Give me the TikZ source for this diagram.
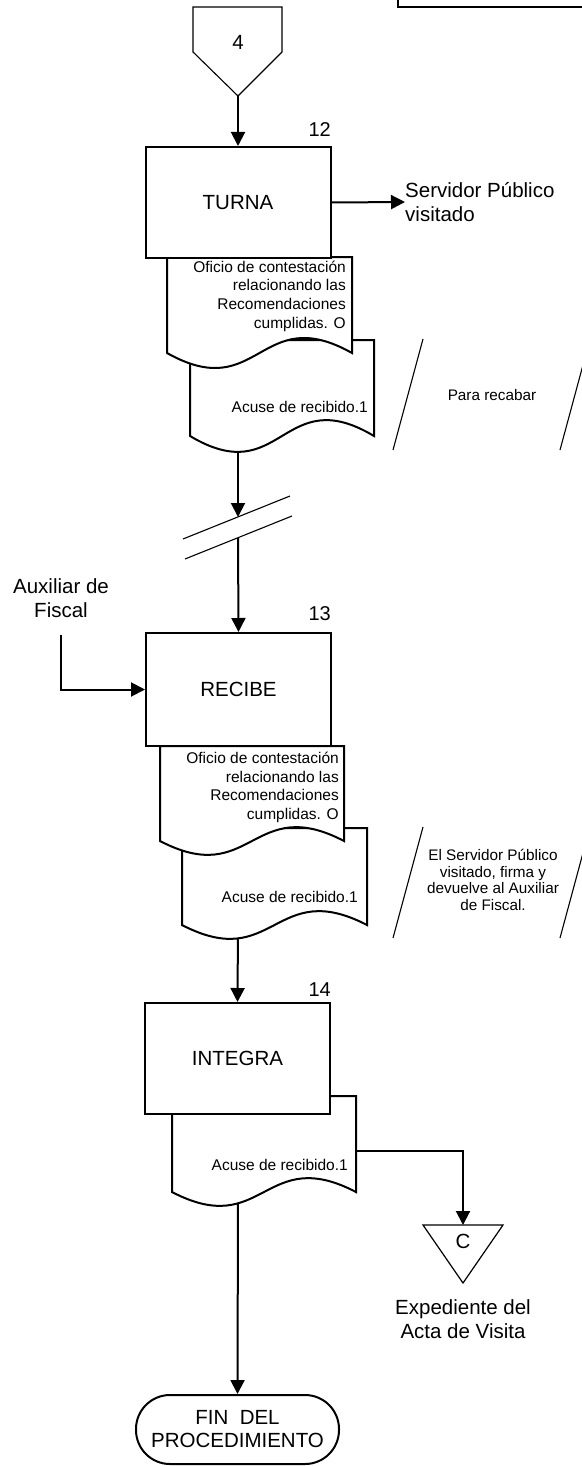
\documentclass[tikz,border=0pt]{standalone}
\usepackage{fontspec}
\setmainfont{Liberation Sans}
\usetikzlibrary{arrows.meta,backgrounds}
\tikzset{
 shapeline/.style={line width=2pt, draw=black, fill=white},
 thinline/.style={line width=1.1pt, draw=black},
 conn/.style={line width=2pt, -{Triangle[length=14pt,width=14pt]}},
 procbox/.style={shapeline, rectangle, minimum width=185pt, minimum height=111pt, inner sep=0pt, font=\fontsize{20.5}{24}\selectfont},
 bigtxt/.style={font=\fontsize{20.5}{24}\selectfont, inner sep=0pt, align=center},
 lefttxt/.style={font=\fontsize{20.5}{24}\selectfont, inner sep=0pt, align=left, anchor=west},
 doctxt/.style={font=\fontsize{15.5}{18.6}\selectfont, inner sep=0pt, align=right, anchor=east},
 notetxt/.style={font=\fontsize{15.3}{16.8}\selectfont, inner sep=0pt, align=center},
 numtxt/.style={font=\fontsize{20}{23}\selectfont, inner sep=0pt, anchor=base east},
 terminal/.style={shapeline, rounded corners=34pt, minimum width=203pt, minimum height=69pt, inner sep=0pt, align=center, font=\fontsize{20.5}{23}\selectfont},
}
\newcommand\mydocshape[5]{\path[shapeline] (#1,#2) -- (#3,#2) -- (#3,#4) .. controls ({(#1+#3)/2},{#4-#5}) and ({(#1+#3)/2},{#4+#5}) .. (#1,#4) -- cycle;}
\begin{document}
\begin{tikzpicture}[x=1pt,y=-1pt]
\useasboundingbox (0,0) rectangle (581,1466);
% top right frame
\draw[line width=2.6pt] (398,-10) -- (398,7) -- (600,7);
% off-page connector 4
\path[thinline, fill=white] (193,7) -- (282,7) -- (282,52) -- (238,96) -- (193,52) -- cycle;
\node[bigtxt] (c4) at (238,42) {4};
\coordinate (c4tip) at (238,96);
% step 12
\mydocshape{190}{340}{374}{436}{55}
\node[doctxt] (d2) at (368,407) {Acuse de recibido.1};
\coordinate (d2b) at (238,436);
\mydocshape{167}{257}{352}{353}{52}
\node[doctxt] (d1) at (346,296) {Oficio de contestación\\relacionando las\\Recomendaciones\\cumplidas. O};
\node[procbox] (t12) at (238,202.5) {TURNA};
\node[numtxt] (n12) at (331,137) {12};
\node[lefttxt] (sp) at (405,202) {Servidor Público\\visitado};
% annotation Para recabar
\draw[thinline] (423,339) -- (393,450);
\draw[thinline] (590,339) -- (560,450);
\node[notetxt] (pr) at (492,395) {Para recabar};
% break
\coordinate (brkA) at (238,517);
\coordinate (brkB) at (238,538);
\draw[thinline] (183,539) -- (290,496);
\draw[thinline] (185,559) -- (292,516);
% step 13
\mydocshape{182}{828}{367}{925}{48}
\node[doctxt] (d4) at (358,897) {Acuse de recibido.1};
\coordinate (d4b) at (238,925);
\mydocshape{160}{746}{344}{841}{48}
\node[doctxt] (d3) at (339,787.5) {Oficio de contestación\\relacionando las\\Recomendaciones\\cumplidas. O};
\node[procbox, minimum width=185pt, minimum height=113pt] (r13) at (238.5,689.5) {RECIBE};
\node[numtxt] (n13) at (331,620) {13};
\node[bigtxt] (aux) at (61,598) {Auxiliar de\\Fiscal};
\coordinate (auxs) at (61,635);
% annotation 2
\draw[thinline] (423,827) -- (393,938);
\draw[thinline] (590,827) -- (560,938);
\node[notetxt] (sv) at (493,880) {El Servidor Público\\visitado, firma y\\devuelve al Auxiliar\\de Fiscal.};
% step 14
\mydocshape{172}{1096}{356}{1192}{48}
\node[doctxt] (d5) at (348,1165) {Acuse de recibido.1};
\coordinate (d5b) at (238,1192);
\coordinate (d5r) at (356,1151);
\node[procbox] (i14) at (237.5,1058.5) {INTEGRA};
\node[numtxt] (n14) at (331,996) {14};
% connector C
\path[line width=1.2pt, draw=black, fill=white] (423,1225) -- (503,1225) -- (463,1283) -- cycle;
\node[bigtxt] (cC) at (463,1241) {C};
\coordinate (ctop) at (463,1225);
\node[bigtxt] (exp) at (463,1319) {Expediente del\\Acta de Visita};
% end
\node[terminal] (fin) at (237.5,1429.5) {FIN\ \ DEL\\PROCEDIMIENTO};
% connectors
\begin{pgfonlayer}{background}
\draw[conn] (c4tip) -- (t12.north);
\draw[conn] (t12.east) -- (sp.west);
\draw[conn] (d2b) -- (brkA);
\draw[conn] (brkB) -- (r13.north);
\draw[conn] (auxs) |- (r13.west);
\draw[conn] (d4b) -- (i14.north);
\draw[conn] (d5r) -| (ctop);
\draw[conn] (d5b) -- (fin.north);
\end{pgfonlayer}
\end{tikzpicture}
\end{document}
